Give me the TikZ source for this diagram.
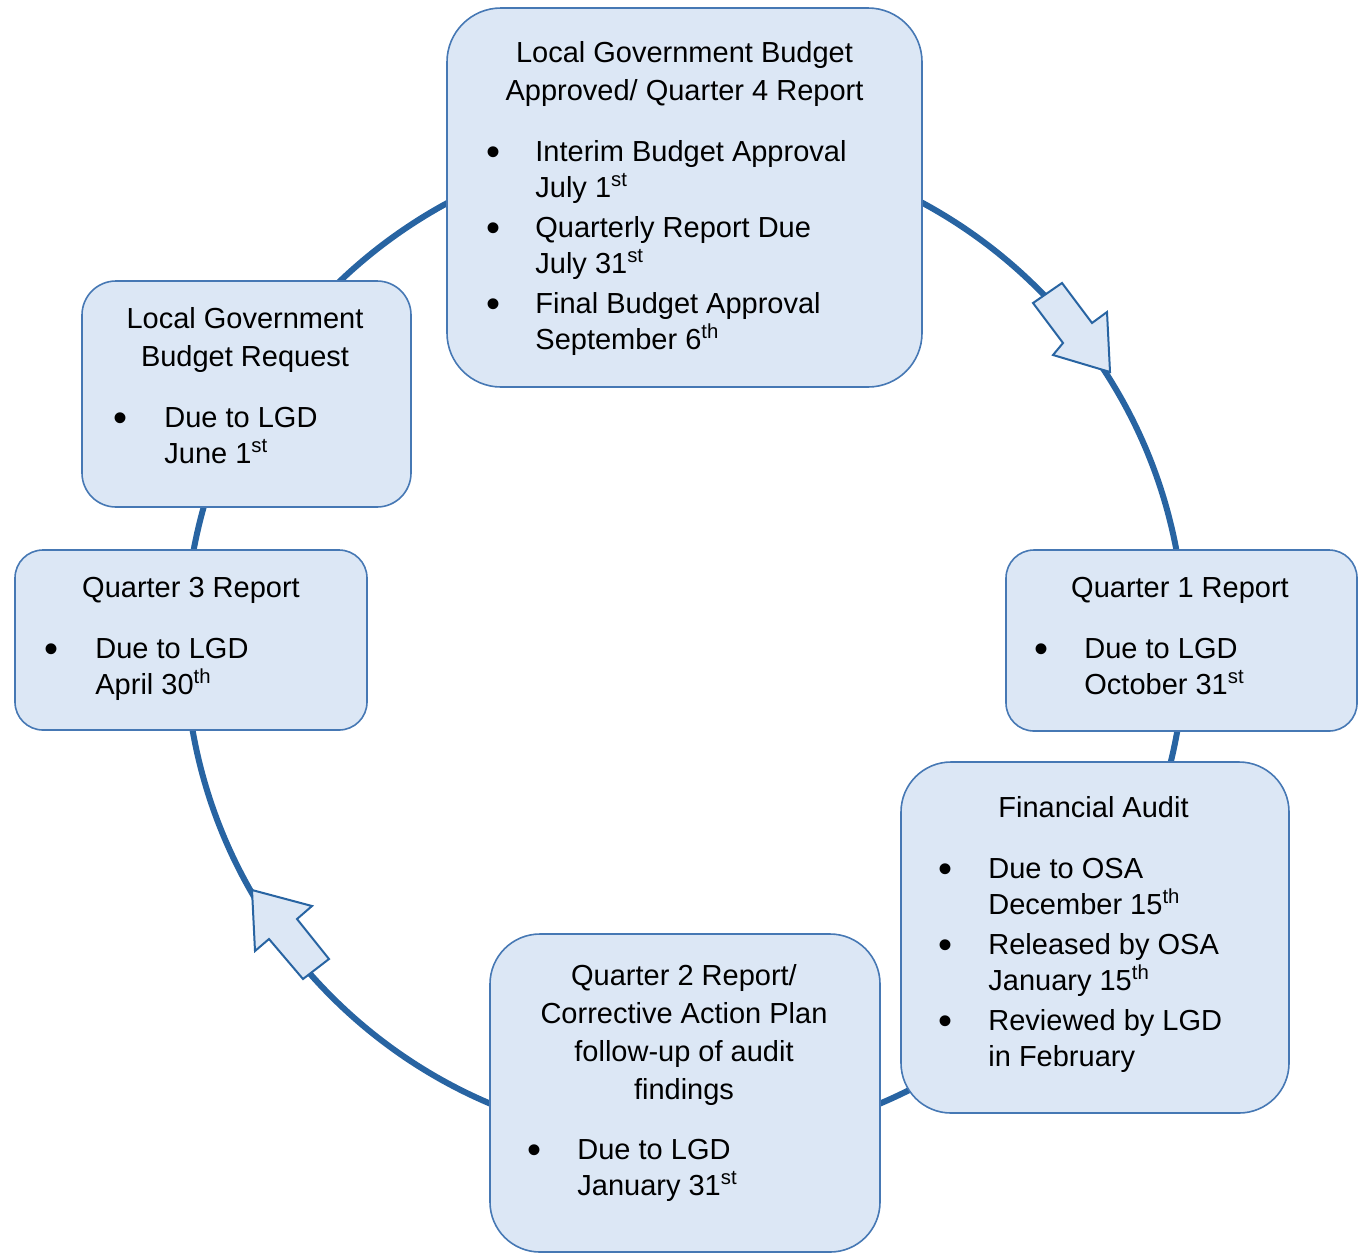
\documentclass[tikz,border=0pt]{standalone}
\usepackage{fontspec}
\setmainfont{Liberation Sans}
\definecolor{ringblue}{RGB}{40,100,162}
\definecolor{boxline}{RGB}{70,120,180}
\definecolor{boxfill}{RGB}{220,231,245}
\newcommand{\dotmark}{\raisebox{-2.2pt}{\fontsize{20}{18}\selectfont\textbullet}}
\begin{document}
\begin{tikzpicture}[x=0.5pt,y=0.5pt,yscale=-1,xscale=1,
  box/.style={draw=boxline,fill=boxfill,line width=0.8pt,inner sep=0pt,rounded corners=#1},
  head/.style={anchor=base,inner sep=0pt,font=\fontsize{14.5}{19}\selectfont},
  list/.style={anchor=base west,inner sep=0pt,font=\fontsize{14.5}{18}\selectfont},
  ring/.style={draw=ringblue,line width=3pt},
  blockarrow/.style={draw=ringblue,fill=boxfill,line width=1pt,line join=miter}]
\useasboundingbox (0,0) rectangle (1363,1253);

%Shape: Circle
\coordinate (hub) at (685,643);
\draw [ring] (hub) circle (250pt) ;
%Shape: Right Arrow (down right)
\draw [blockarrow] (1033,303) -- (1062,283) -- (1092,323) -- (1107,312) -- (1110,372) -- (1053,355) -- (1063,343) -- cycle ;
%Shape: Right Arrow (up left)
\draw [blockarrow] (252,890) -- (312,906) -- (297,919) -- (329,959) -- (303,979) -- (269,939) -- (255,951) -- cycle ;

%Rounded Rect
\node [box=27pt,minimum width=237.5pt,minimum height=189.5pt] (approved) at (684.5,197.5) {};
%Rounded Rect
\node [box=17pt,minimum width=164.5pt,minimum height=113pt] (request) at (246.5,394) {};
%Rounded Rect
\node [box=14pt,minimum width=176pt,minimum height=90pt] (qthree) at (191,640) {};
%Rounded Rect
\node [box=14pt,minimum width=175.5pt,minimum height=90.5pt] (qone) at (1181.5,640.5) {};
%Rounded Rect
\node [box=25pt,minimum width=194pt,minimum height=175.5pt] (audit) at (1095,937.5) {};
%Rounded Rect
\node [box=25pt,minimum width=195pt,minimum height=159pt] (qtwo) at (685,1093) {};

% Text Node
\node [head] (approvedhead) at (684.5,62) {\begin{tabular}[t]{@{}c@{}}Local Government Budget\\Approved/ Quarter 4 Report\end{tabular}};
% Text Node
\node [list] (approvedlist) at (486,161) {\begin{tabular}[t]{@{}p{24.5pt}@{}l@{}}\dotmark & Interim Budget Approval\\ & July 1\textsuperscript{st}\\[2pt]
  \dotmark & Quarterly Report Due\\ & July 31\textsuperscript{st}\\[2pt]
  \dotmark & Final Budget Approval\\ & September 6\textsuperscript{th}\end{tabular}};
% Text Node
\node [head] (requesthead) at (245,328) {\begin{tabular}[t]{@{}c@{}}Local Government\\Budget Request\end{tabular}};
% Text Node
\node [list] (requestlist) at (113,427) {\begin{tabular}[t]{@{}p{25.5pt}@{}l@{}}\dotmark & Due to LGD\\ & June 1\textsuperscript{st}\end{tabular}};
% Text Node
\node [head] (qthreehead) at (191,597) {Quarter 3 Report};
% Text Node
\node [list] (qthreelist) at (44,658) {\begin{tabular}[t]{@{}p{25.5pt}@{}l@{}}\dotmark & Due to LGD\\ & April 30\textsuperscript{th}\end{tabular}};
% Text Node
\node [head] (qonehead) at (1180,597) {Quarter 1 Report};
% Text Node
\node [list] (qonelist) at (1034,658) {\begin{tabular}[t]{@{}p{25pt}@{}l@{}}\dotmark & Due to LGD\\ & October 31\textsuperscript{st}\end{tabular}};
% Text Node
\node [head] (audithead) at (1093.5,817) {Financial Audit};
% Text Node
\node [list] (auditlist) at (938,878) {\begin{tabular}[t]{@{}p{25pt}@{}l@{}}\dotmark & Due to OSA\\ & December 15\textsuperscript{th}\\[2pt]
  \dotmark & Released by OSA\\ & January 15\textsuperscript{th}\\[2pt]
  \dotmark & Reviewed by LGD\\ & in February\end{tabular}};
% Text Node
\node [head] (qtwohead) at (684,985) {\begin{tabular}[t]{@{}c@{}}Quarter 2 Report/\\Corrective Action Plan\\follow-up of audit\\findings\end{tabular}};
% Text Node
\node [list] (qtwolist) at (527,1159) {\begin{tabular}[t]{@{}p{25pt}@{}l@{}}\dotmark & Due to LGD\\ & January 31\textsuperscript{st}\end{tabular}};

\end{tikzpicture}
\end{document}
